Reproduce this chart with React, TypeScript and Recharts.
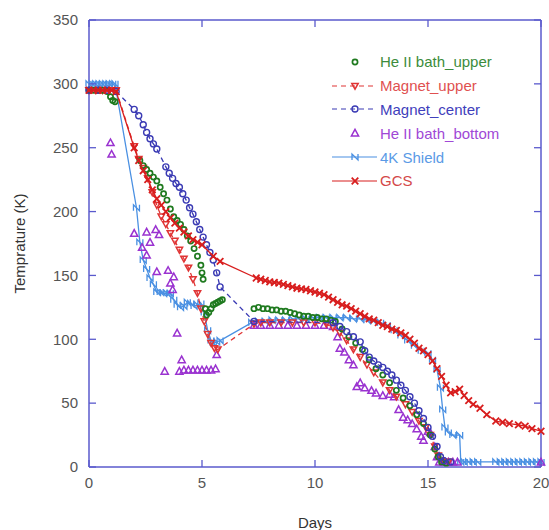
import React from 'react';
import { ScatterChart, Scatter, XAxis, YAxis, ReferenceLine } from 'recharts';

type Pt = [number, number];

const xTicks = [0, 5, 10, 15, 20];
const yTicks = [0, 50, 100, 150, 200, 250, 300, 350];

// He II bath_upper (markers only)
const heUpper: Pt[] = [
  [0, 295], [0.2, 295], [0.4, 295], [0.6, 295], [0.8, 294], [0.95, 290], [1.05, 287], [1.15, 286],
  [2.25, 240], [2.4, 236], [2.55, 233], [2.7, 230], [2.85, 227], [3.0, 224], [3.15, 219], [3.3, 214],
  [3.45, 209], [3.6, 202], [3.75, 196], [3.9, 193], [4.05, 190], [4.2, 186], [4.35, 181], [4.5, 177],
  [4.65, 171], [4.8, 165], [4.95, 158], [5.0, 152], [5.05, 147],
  [5.15, 124], [5.2, 119], [5.3, 121], [5.4, 124], [5.5, 127], [5.6, 128], [5.7, 129], [5.8, 130], [5.9, 131],
  [7.3, 124], [7.5, 125], [7.7, 124], [7.9, 124], [8.1, 123], [8.3, 123], [8.5, 122], [8.7, 122], [8.9, 121],
  [9.1, 120], [9.3, 119], [9.5, 118], [9.7, 118], [9.9, 117], [10.1, 117], [10.3, 116], [10.5, 116],
  [10.7, 115], [10.9, 114], [11.2, 108], [11.5, 102], [11.8, 97], [12.1, 92], [12.4, 84], [12.7, 77],
  [13.0, 72], [13.3, 66], [13.6, 60], [13.9, 54], [14.2, 48], [14.5, 41], [14.8, 34], [15.1, 25],
  [15.3, 14], [15.45, 8], [15.6, 4], [15.8, 3],
];

// Magnet_upper (dashed)
const magnetUpper: Pt[] = [
  [0, 295], [0.3, 295], [0.6, 295], [0.9, 295], [1.2, 295], [2.0, 251], [2.2, 241], [2.4, 234],
  [2.6, 226], [2.8, 215], [3.0, 205], [3.2, 196], [3.4, 190], [3.6, 183], [3.8, 177], [4.0, 170],
  [4.2, 163], [4.4, 156], [4.6, 147], [4.8, 136], [4.95, 124], [5.1, 114], [5.25, 104], [5.4, 97],
  [5.55, 93], [5.7, 92], [7.3, 112], [7.6, 113], [8.0, 113], [8.5, 113], [9.0, 113], [9.5, 113],
  [10.0, 113], [10.5, 112], [10.8, 109], [11.1, 105], [11.4, 99], [11.7, 92], [12.0, 86], [12.3, 80],
  [12.6, 74], [13.0, 66], [13.3, 60], [13.6, 55], [14.0, 49], [14.3, 43], [14.6, 36], [14.9, 31],
  [15.1, 25], [15.3, 16], [15.45, 9], [15.6, 5], [15.9, 4],
];

// Magnet_center (dashed)
const magnetCenter: Pt[] = [
  [0, 295], [0.4, 295], [0.8, 295], [1.2, 294], [2.0, 280], [2.2, 275], [2.4, 268], [2.55, 262],
  [2.7, 257], [2.85, 253], [3.0, 249], [3.4, 235], [3.55, 230], [3.7, 226], [3.85, 222], [4.0, 219],
  [4.15, 214], [4.3, 209], [4.45, 203], [4.6, 198], [4.75, 192], [4.9, 186], [5.05, 180], [5.2, 174],
  [5.35, 168], [5.5, 162], [5.65, 152], [5.8, 141], [7.3, 114], [10.8, 113], [11.1, 110], [11.4, 106],
  [11.7, 102], [12.0, 98], [12.2, 91], [12.4, 86], [12.6, 83], [12.8, 80], [13.0, 78], [13.2, 75],
  [13.4, 72], [13.6, 68], [13.8, 64], [14.0, 60], [14.2, 55], [14.4, 50], [14.6, 44], [14.8, 38],
  [15.0, 31], [15.2, 24], [15.4, 16], [15.55, 8], [15.7, 5], [16.0, 4],
];

// He II bath_bottom (markers only)
const heBottom: Pt[] = [
  [0.95, 254], [1.0, 245],
  [2.0, 183], [2.35, 172], [2.55, 184], [2.55, 166], [2.7, 176], [2.95, 186], [3.0, 153], [3.1, 182],
  [3.5, 154], [3.6, 144], [3.7, 139], [3.75, 149], [3.9, 105], [4.1, 84], [3.35, 75], [4.0, 75],
  [4.2, 76], [4.4, 76], [4.6, 76], [4.8, 76], [5.0, 76], [5.2, 76], [5.4, 76], [5.6, 77], [5.65, 88],
  [7.3, 111], [7.6, 111], [8.0, 111], [8.4, 111], [8.8, 111], [9.2, 111], [9.6, 111], [10.0, 111],
  [10.4, 111], [10.8, 110], [11.0, 102], [11.1, 93], [11.3, 90], [11.5, 84], [11.7, 80], [11.85, 63],
  [12.0, 66], [12.2, 62], [12.5, 60], [12.7, 58], [13.0, 56], [13.3, 57], [13.5, 55], [13.7, 45],
  [13.9, 39], [14.1, 37], [14.3, 34], [14.5, 30], [14.7, 24], [14.8, 21], [15.0, 28], [15.1, 27],
  [15.3, 16], [15.4, 8], [15.5, 4], [15.7, 4], [15.9, 4], [16.1, 4], [16.3, 4], [20, 4],
];

// 4K Shield (solid)
const shield4k: Pt[] = [
  [0, 300], [0.15, 300], [0.3, 300], [0.45, 300], [0.6, 300], [0.75, 300], [0.9, 300], [1.05, 300], [1.15, 300],
  [2.1, 203], [2.25, 176], [2.4, 162], [2.55, 155], [2.7, 148], [2.85, 143], [3.0, 137], [3.15, 137],
  [3.3, 136], [3.45, 136], [3.6, 136], [3.75, 131], [3.9, 127], [4.05, 125], [4.2, 126], [4.35, 129],
  [4.5, 128], [4.65, 126], [4.8, 127], [4.95, 128], [5.1, 121], [5.25, 107], [5.4, 99], [5.5, 97],
  [5.65, 98], [5.8, 99], [7.2, 113], [7.5, 114], [7.8, 114], [8.1, 115], [8.4, 115], [8.7, 115],
  [9.0, 116], [9.3, 116], [9.6, 116], [9.9, 117], [10.2, 117], [10.5, 117], [10.8, 117], [11.1, 117],
  [11.4, 117], [11.7, 116], [12.0, 116], [12.3, 115], [12.6, 114], [12.9, 113], [13.2, 111], [13.5, 107],
  [13.8, 103], [14.1, 99], [14.4, 95], [14.7, 91], [15.0, 89], [15.2, 84], [15.4, 76], [15.55, 62],
  [15.65, 45], [15.75, 31], [15.9, 27], [16.1, 25], [16.4, 25], [16.45, 4], [16.6, 4], [16.8, 4],
  [17.0, 4], [17.2, 4], [18.0, 4], [18.2, 4], [18.4, 4], [18.6, 4], [18.8, 4], [19.0, 4], [19.2, 4],
  [19.4, 4], [19.6, 4], [19.8, 4], [20, 4],
];

// GCS (solid)
const gcs: Pt[] = [
  [0, 295], [0.2, 295], [0.4, 295], [0.6, 295], [0.8, 295], [1.0, 295], [1.2, 294],
  [2.0, 250], [2.2, 240], [2.4, 232], [2.6, 225], [2.8, 217], [3.0, 210], [3.2, 205], [3.4, 200],
  [3.6, 195], [3.8, 191], [4.0, 187], [4.2, 184], [4.4, 181], [4.6, 178], [4.8, 176], [5.0, 174],
  [5.5, 165], [5.8, 161], [7.4, 148], [7.6, 147], [7.8, 146], [8.0, 145], [8.2, 144.5], [8.4, 144],
  [8.6, 143], [8.8, 142], [9.0, 141], [9.2, 140], [9.4, 139.5], [9.6, 139], [9.8, 138], [10.0, 137],
  [10.2, 136], [10.4, 135], [10.6, 133], [10.8, 131], [11.0, 129], [11.2, 127], [11.4, 126], [11.6, 124],
  [11.8, 122], [12.0, 120], [12.2, 118], [12.4, 116], [12.6, 115], [12.8, 113], [13.0, 111], [13.2, 110],
  [13.4, 108], [13.6, 107], [13.8, 105], [14.0, 103], [14.2, 100], [14.4, 97], [14.6, 93], [14.8, 91],
  [15.0, 88], [15.2, 83], [15.4, 77], [15.6, 71], [15.8, 64], [16.0, 58], [16.2, 59], [16.4, 61],
  [16.6, 56], [16.8, 52], [17.0, 49], [17.3, 46], [17.6, 41], [18.0, 36], [18.3, 35], [18.6, 34],
  [19.0, 33], [19.3, 32], [19.6, 30], [20.0, 28],
];

const FONT = '"Liberation Sans", Arial, sans-serif';
const AXIS = '#5a5acd';
const PLOT_TOP = 20;
const PLOT_BOTTOM = 467;
const PLOT_LEFT = 89;
const PLOT_RIGHT = 541;
const TICK_LEN = 7;

const toPts = (arr: Pt[]) => arr.map(([x, y]) => ({ x, y }));

// marker shapes
const openCircle = (color: string, r: number, sw: number) => (p: any) => (
  <circle cx={p.cx} cy={p.cy} r={r} fill="none" stroke={color} strokeWidth={sw} />
);
const triDown = (color: string) => (p: any) => (
  <path d={`M${p.cx - 3.2},${p.cy - 2.6}L${p.cx + 3.2},${p.cy - 2.6}L${p.cx},${p.cy + 3.2}Z`} fill="none" stroke={color} strokeWidth={1.5} />
);
const triUp = (color: string) => (p: any) => (
  <path d={`M${p.cx - 3.6},${p.cy + 3}L${p.cx + 3.6},${p.cy + 3}L${p.cx},${p.cy - 3.6}Z`} fill="none" stroke={color} strokeWidth={1.5} />
);
const nMark = (color: string) => (p: any) => (
  <path d={`M${p.cx - 3},${p.cy + 3}L${p.cx - 3},${p.cy - 3}L${p.cx + 3},${p.cy + 3}L${p.cx + 3},${p.cy - 3}`} fill="none" stroke={color} strokeWidth={1.3} />
);
const xMark = (color: string) => (p: any) => (
  <path d={`M${p.cx - 3.3},${p.cy - 3.3}L${p.cx + 3.3},${p.cy + 3.3}M${p.cx - 3.3},${p.cy + 3.3}L${p.cx + 3.3},${p.cy - 3.3}`} fill="none" stroke={color} strokeWidth={1.8} />
);

const SERIES = [
  { name: 'He II bath_upper', data: heUpper, color: '#1f7a1f', text: '#3c8c3c', line: null, marker: openCircle('#1f7a1f', 2.6, 1.7) },
  { name: 'Magnet_upper', data: magnetUpper, color: '#e03434', text: '#e05050', line: '5 4', marker: triDown('#e03434') },
  { name: 'Magnet_center', data: magnetCenter, color: '#3a3ab4', text: '#4040bb', line: '5 4', marker: openCircle('#3a3ab4', 3, 1.4) },
  { name: 'He II bath_bottom', data: heBottom, color: '#9a32d0', text: '#a048d6', line: null, marker: triUp('#9a32d0') },
  { name: '4K Shield', data: shield4k, color: '#4a90e2', text: '#5a9ae6', line: '', marker: nMark('#4a90e2') },
  { name: 'GCS', data: gcs, color: '#d81e1e', text: '#d44848', line: '', marker: xMark('#d81e1e') },
];

// draw order on the plot
const DRAW_ORDER = ['4K Shield', 'He II bath_bottom', 'Magnet_upper', 'He II bath_upper', 'Magnet_center', 'GCS'];

const XTick = (props: any) => {
  const { x, y, payload } = props;
  return (
    <g>
      <line x1={x} x2={x} y1={PLOT_BOTTOM} y2={PLOT_BOTTOM - TICK_LEN} stroke={AXIS} strokeWidth={1.3} />
      <line x1={x} x2={x} y1={PLOT_TOP} y2={PLOT_TOP + TICK_LEN} stroke={AXIS} strokeWidth={1.3} />
      <text x={x} y={y} dy="0.35em" textAnchor="middle" fill="#555" fontSize={15} fontFamily={FONT}>
        {payload.value}
      </text>
    </g>
  );
};

const YTick = (props: any) => {
  const { x, y, payload } = props;
  return (
    <g>
      <line x1={PLOT_LEFT} x2={PLOT_LEFT + TICK_LEN} y1={y} y2={y} stroke={AXIS} strokeWidth={1.3} />
      <line x1={PLOT_RIGHT} x2={PLOT_RIGHT - TICK_LEN} y1={y} y2={y} stroke={AXIS} strokeWidth={1.3} />
      <text x={x} y={y} dy="0.35em" textAnchor="end" fill="#555" fontSize={15} fontFamily={FONT}>
        {payload.value}
      </text>
    </g>
  );
};

const LegendBox = () => (
  <div style={{ position: 'absolute', left: 330, top: 50, width: 215, fontFamily: FONT, fontSize: 15 }}>
    {SERIES.map((s) => (
      <div key={s.name} style={{ display: 'flex', alignItems: 'center', height: 23.8 }}>
        <svg width={50} height={14} style={{ flex: 'none' }}>
          {s.line !== null && (
            <line x1={2} x2={47} y1={7} y2={7} stroke={s.color} strokeWidth={1.2} strokeDasharray={s.line || undefined} />
          )}
          {s.marker({ cx: 25, cy: 7 })}
        </svg>
        <span style={{ color: s.text, whiteSpace: 'nowrap' }}>{s.name}</span>
      </div>
    ))}
  </div>
);

export default function App() {
  return (
    <div style={{ position: 'absolute', left: 0, top: 0, width: 549, height: 530, background: '#fff' }}>
      <ScatterChart
        width={549}
        height={530}
        margin={{ top: PLOT_TOP, right: 549 - PLOT_RIGHT, bottom: 0, left: 0 }}
        style={{ fontFamily: FONT }}
      >
        <XAxis
          type="number"
          dataKey="x"
          domain={[0, 20]}
          ticks={xTicks}
          height={530 - PLOT_BOTTOM}
          tickLine={false}
          tickSize={0}
          tickMargin={16}
          axisLine={{ stroke: AXIS, strokeWidth: 1.5 }}
          tick={<XTick />}
          label={{ value: 'Days', position: 'insideBottom', offset: 2, fill: '#333', fontSize: 15, fontFamily: FONT }}
        />
        <YAxis
          type="number"
          dataKey="y"
          domain={[0, 350]}
          ticks={yTicks}
          width={PLOT_LEFT}
          tickLine={false}
          tickSize={0}
          tickMargin={11}
          axisLine={{ stroke: AXIS, strokeWidth: 1.5 }}
          tick={<YTick />}
          label={{
            value: 'Temprature (K)',
            angle: -90,
            position: 'insideLeft',
            offset: 20,
            fill: '#333',
            fontSize: 15,
            fontFamily: FONT,
            style: { textAnchor: 'middle' },
          }}
        />
        <ReferenceLine y={350} stroke={AXIS} strokeWidth={1.5} />
        <ReferenceLine x={20} stroke={AXIS} strokeWidth={1.5} />
        {DRAW_ORDER.map((n) => {
          const s = SERIES.find((q) => q.name === n)!;
          return (
            <Scatter
              key={s.name}
              name={s.name}
              data={toPts(s.data)}
              shape={s.marker}
              line={s.line === null ? false : { stroke: s.color, strokeWidth: 1.3, strokeDasharray: s.line || undefined }}
              lineType="joint"
              isAnimationActive={false}
            />
          );
        })}
      </ScatterChart>
      <LegendBox />
    </div>
  );
}
